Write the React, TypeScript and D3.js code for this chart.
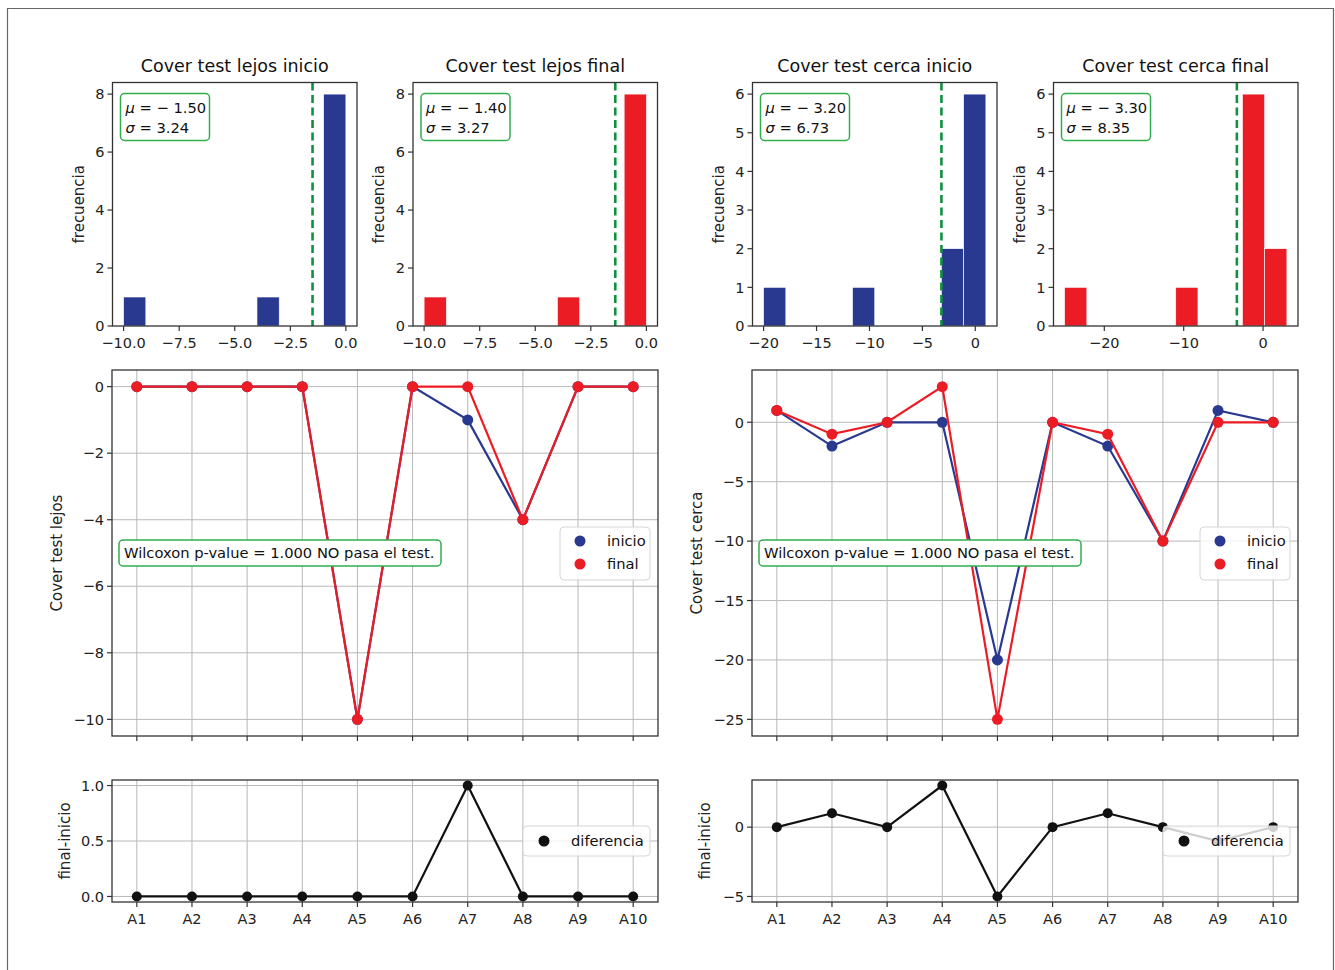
import React from "react";
import * as d3 from "d3";

// ---------- data ----------
const categories = ["A1", "A2", "A3", "A4", "A5", "A6", "A7", "A8", "A9", "A10"];
const lejosInicio = [0, 0, 0, 0, -10, 0, -1, -4, 0, 0];
const lejosFinal = [0, 0, 0, 0, -10, 0, 0, -4, 0, 0];
const cercaInicio = [1, -2, 0, 0, -20, 0, -2, -10, 1, 0];
const cercaFinal = [1, -1, 0, 3, -25, 0, -1, -10, 0, 0];

const histTitles = ["Cover test lejos inicio", "Cover test lejos final", "Cover test cerca inicio", "Cover test cerca final"];
const histLejosXTicks = [-10, -7.5, -5, -2.5, 0];
const histLejosYTicks = [0, 2, 4, 6, 8];
const histCercaInicioXTicks = [-20, -15, -10, -5, 0];
const histCercaFinalXTicks = [-20, -10, 0];
const histCercaYTicks = [0, 1, 2, 3, 4, 5, 6];
const lineLejosYTicks = [0, -2, -4, -6, -8, -10];
const lineCercaYTicks = [0, -5, -10, -15, -20, -25];
const diffLejosYTicks = [0, 0.5, 1];
const diffCercaYTicks = [-5, 0];
const wilcoxonText = "Wilcoxon p-value = 1.000 NO pasa el test.";

// ---------- style ----------
const FONT = "DejaVu Sans, Verdana, sans-serif";
const BLUE = "#2a3990";
const RED = "#ec1c24";
const GREEN_LINE = "#0f9140";
const GREEN_BOX = "#2fae4e";
const SPINE = "#333333";
const GRID = "#b8b8b8";
const TICK_FS = 14.5;

function histBins(values: number[], n = 10) {
  const mn = d3.min(values) as number;
  const mx = d3.max(values) as number;
  const w = (mx - mn) / n;
  const counts = new Array(n).fill(0);
  values.forEach((v) => {
    let i = Math.floor((v - mn) / w);
    if (i >= n) i = n - 1;
    counts[i]++;
  });
  return counts.map((c, i) => ({ x0: mn + i * w, x1: mn + (i + 1) * w, count: c }));
}

function padDomain(mn: number, mx: number): [number, number] {
  const r = mx - mn;
  return [mn - 0.05 * r, mx + 0.05 * r];
}

type Frame = { x: number; y: number; w: number; h: number };

function Spines({ f }: { f: Frame }) {
  return <rect x={f.x} y={f.y} width={f.w} height={f.h} fill="none" stroke={SPINE} strokeWidth={1.3} />;
}

function YAxis({ f, ys, ticks, fmt, grid }: { f: Frame; ys: any; ticks: number[]; fmt: (v: number) => string; grid?: boolean }) {
  return (
    <g>
      {ticks.map((t, i) => (
        <g key={i}>
          {grid && <line x1={f.x} x2={f.x + f.w} y1={ys(t)} y2={ys(t)} stroke={GRID} strokeWidth={1} />}
          <line x1={f.x - 5} x2={f.x} y1={ys(t)} y2={ys(t)} stroke={SPINE} strokeWidth={1.2} />
          <text x={f.x - 8} y={ys(t)} dy="0.36em" textAnchor="end" fontSize={TICK_FS} fontFamily={FONT} fill="#222">
            {fmt(t)}
          </text>
        </g>
      ))}
    </g>
  );
}

function XAxis({ f, xs, ticks, labels, grid }: { f: Frame; xs: any; ticks: number[]; labels: string[] | null; grid?: boolean }) {
  const b = f.y + f.h;
  return (
    <g>
      {ticks.map((t, i) => (
        <g key={i}>
          {grid && <line x1={xs(t)} x2={xs(t)} y1={f.y} y2={b} stroke={GRID} strokeWidth={1} />}
          <line x1={xs(t)} x2={xs(t)} y1={b} y2={b + 5} stroke={SPINE} strokeWidth={1.2} />
          {labels && (
            <text x={xs(t)} y={b + 22} textAnchor="middle" fontSize={TICK_FS} fontFamily={FONT} fill="#222">
              {labels[i]}
            </text>
          )}
        </g>
      ))}
    </g>
  );
}

function YLabel({ x, y, text }: { x: number; y: number; text: string }) {
  return (
    <text transform={`translate(${x},${y}) rotate(-90)`} textAnchor="middle" dy="0.35em" fontSize={15} fontFamily={FONT} fill="#222">
      {text}
    </text>
  );
}

function Histogram({ f, values, title, color, xTicks, yTicks, xFmt }: { f: Frame; values: number[]; title: string; color: string; xTicks: number[]; yTicks: number[]; xFmt: (v: number) => string }) {
  const bins = histBins(values);
  const mn = d3.min(values) as number;
  const mx = d3.max(values) as number;
  const xs = d3.scaleLinear().domain(padDomain(mn, mx)).range([f.x, f.x + f.w]);
  const maxC = d3.max(bins, (b) => b.count) as number;
  const ys = d3.scaleLinear().domain([0, maxC * 1.05]).range([f.y + f.h, f.y]);
  const mean = d3.mean(values) as number;
  const sd = d3.deviation(values) as number;
  const fmt2 = d3.format(".2f");
  const bx = f.x + 8;
  const by = f.y + 11;
  return (
    <g>
      {bins
        .filter((b) => b.count > 0)
        .map((b, i) => (
          <rect key={i} x={xs(b.x0)} y={ys(b.count)} width={xs(b.x1) - xs(b.x0)} height={ys(0) - ys(b.count)} fill={color} stroke="#ffffff" strokeWidth={0.6} />
        ))}
      <line x1={xs(mean)} x2={xs(mean)} y1={f.y} y2={f.y + f.h} stroke={GREEN_LINE} strokeWidth={2.6} strokeDasharray="8,4.5" />
      <Spines f={f} />
      <YAxis f={f} ys={ys} ticks={yTicks} fmt={d3.format("d")} />
      <XAxis f={f} xs={xs} ticks={xTicks} labels={xTicks.map(xFmt)} />
      <text x={f.x + f.w / 2} y={f.y - 11} textAnchor="middle" fontSize={17.5} fontFamily={FONT} fill="#111">
        {title}
      </text>
      <YLabel x={f.x - 34} y={f.y + f.h / 2 + 0} text="frecuencia" />
      <rect x={bx} y={by} width={89} height={47} rx={4} fill="#fff" stroke={GREEN_BOX} strokeWidth={1.5} />
      <text x={bx + 5} y={by + 19} fontSize={14.7} fontFamily={FONT} fill="#111">
        <tspan fontStyle="italic">μ</tspan>
        <tspan> = − {fmt2(Math.abs(mean))}</tspan>
      </text>
      <text x={bx + 5} y={by + 39} fontSize={14.7} fontFamily={FONT} fill="#111">
        <tspan fontStyle="italic">σ</tspan>
        <tspan> = {fmt2(sd)}</tspan>
      </text>
    </g>
  );
}

function LinePanel({ f, inicio, fin, yTicks, label }: { f: Frame; inicio: number[]; fin: number[]; yTicks: number[]; label: string }) {
  const idx = categories.map((_, i) => i);
  const xs = d3.scaleLinear().domain([-0.45, categories.length - 1 + 0.45]).range([f.x, f.x + f.w]);
  const all = inicio.concat(fin);
  const ys = d3.scaleLinear().domain(padDomain(d3.min(all) as number, d3.max(all) as number)).range([f.y + f.h, f.y]);
  const line = d3.line<number>().x((_, i) => xs(i)).y((d) => ys(d));
  const lx = f.x + f.w - 98;
  const ly = f.y + 157;
  return (
    <g>
      <XAxis f={f} xs={xs} ticks={idx} labels={null} grid />
      <YAxis f={f} ys={ys} ticks={yTicks} fmt={d3.format("d")} grid />
      <path d={line(inicio) as string} fill="none" stroke={BLUE} strokeWidth={2.2} />
      {inicio.map((v, i) => (
        <circle key={"a" + i} cx={xs(i)} cy={ys(v)} r={5.5} fill={BLUE} />
      ))}
      <path d={line(fin) as string} fill="none" stroke={RED} strokeWidth={2.2} />
      {fin.map((v, i) => (
        <circle key={"b" + i} cx={xs(i)} cy={ys(v)} r={5.5} fill={RED} />
      ))}
      <Spines f={f} />
      <YLabel x={f.x - 55} y={f.y + f.h / 2 + 0} text={label} />
      <rect x={f.x + 7} y={f.y + 170} width={322} height={26} rx={4} fill="#fff" stroke={GREEN_BOX} strokeWidth={1.5} />
      <text x={f.x + 12} y={f.y + 183} dy="0.36em" fontSize={14.7} fontFamily={FONT} fill="#111">
        {wilcoxonText}
      </text>
      <rect x={lx} y={ly} width={90} height={53} rx={4} fill="#fff" fillOpacity={0.8} stroke="#d6d6d6" strokeWidth={1} />
      <circle cx={lx + 20} cy={ly + 14} r={5.5} fill={BLUE} />
      <text x={lx + 47} y={ly + 14} dy="0.36em" fontSize={14.7} fontFamily={FONT} fill="#111">
        inicio
      </text>
      <circle cx={lx + 20} cy={ly + 37} r={5.5} fill={RED} />
      <text x={lx + 47} y={ly + 37} dy="0.36em" fontSize={14.7} fontFamily={FONT} fill="#111">
        final
      </text>
    </g>
  );
}

function DiffPanel({ f, inicio, fin, yTicks, yFmt }: { f: Frame; inicio: number[]; fin: number[]; yTicks: number[]; yFmt: (v: number) => string }) {
  const idx = categories.map((_, i) => i);
  const diff = fin.map((v, i) => v - inicio[i]);
  const xs = d3.scaleLinear().domain([-0.45, categories.length - 1 + 0.45]).range([f.x, f.x + f.w]);
  const ys = d3.scaleLinear().domain(padDomain(d3.min(diff) as number, d3.max(diff) as number)).range([f.y + f.h, f.y]);
  const line = d3.line<number>().x((_, i) => xs(i)).y((d) => ys(d));
  const lx = f.x + f.w - 135;
  const ly = f.y + 46;
  return (
    <g>
      <XAxis f={f} xs={xs} ticks={idx} labels={categories} grid />
      <YAxis f={f} ys={ys} ticks={yTicks} fmt={yFmt} grid />
      <path d={line(diff) as string} fill="none" stroke="#111" strokeWidth={2.2} />
      {diff.map((v, i) => (
        <circle key={i} cx={xs(i)} cy={ys(v)} r={5} fill="#111" />
      ))}
      <Spines f={f} />
      <YLabel x={f.x - 47} y={f.y + f.h / 2} text="final-inicio" />
      <rect x={lx} y={ly} width={127} height={30} rx={4} fill="#fff" fillOpacity={0.8} stroke="#d6d6d6" strokeWidth={1} />
      <circle cx={lx + 21} cy={ly + 15} r={5.5} fill="#111" />
      <text x={lx + 48} y={ly + 15} dy="0.36em" fontSize={14.7} fontFamily={FONT} fill="#111">
        diferencia
      </text>
    </g>
  );
}

export default function App() {
  const histTop = 82.5;
  const histH = 243.5;
  const histLefts = [112.5, 413, 752.5, 1053.5];
  const histW = 244.5;
  const lineTop = 370;
  const lineH = 366;
  const diffTop = 780;
  const diffH = 122;
  const panelLefts = [112, 752];
  const panelW = 546;
  const f1 = d3.format(".1f");
  const fd = d3.format("d");
  return (
    <svg width={1335} height={970} style={{ position: "absolute", left: 0, top: 0, background: "#fff" }}>
      <rect x={0} y={0} width={1335} height={970} fill="#fff" />
      <path d="M7.5,975 L7.5,8.5 L1333.5,8.5 L1333.5,975" fill="none" stroke="#666" strokeWidth={1.2} />
      <Histogram f={{ x: histLefts[0], y: histTop, w: histW, h: histH }} values={lejosInicio} title={histTitles[0]} color={BLUE} xTicks={histLejosXTicks} yTicks={histLejosYTicks} xFmt={f1} />
      <Histogram f={{ x: histLefts[1], y: histTop, w: histW, h: histH }} values={lejosFinal} title={histTitles[1]} color={RED} xTicks={histLejosXTicks} yTicks={histLejosYTicks} xFmt={f1} />
      <Histogram f={{ x: histLefts[2], y: histTop, w: histW, h: histH }} values={cercaInicio} title={histTitles[2]} color={BLUE} xTicks={histCercaInicioXTicks} yTicks={histCercaYTicks} xFmt={fd} />
      <Histogram f={{ x: histLefts[3], y: histTop, w: histW, h: histH }} values={cercaFinal} title={histTitles[3]} color={RED} xTicks={histCercaFinalXTicks} yTicks={histCercaYTicks} xFmt={fd} />
      <LinePanel f={{ x: panelLefts[0], y: lineTop, w: panelW, h: lineH }} inicio={lejosInicio} fin={lejosFinal} yTicks={lineLejosYTicks} label="Cover test lejos" />
      <LinePanel f={{ x: panelLefts[1], y: lineTop, w: panelW, h: lineH }} inicio={cercaInicio} fin={cercaFinal} yTicks={lineCercaYTicks} label="Cover test cerca" />
      <DiffPanel f={{ x: panelLefts[0], y: diffTop, w: panelW, h: diffH }} inicio={lejosInicio} fin={lejosFinal} yTicks={diffLejosYTicks} yFmt={f1} />
      <DiffPanel f={{ x: panelLefts[1], y: diffTop, w: panelW, h: diffH }} inicio={cercaInicio} fin={cercaFinal} yTicks={diffCercaYTicks} yFmt={fd} />
    </svg>
  );
}
